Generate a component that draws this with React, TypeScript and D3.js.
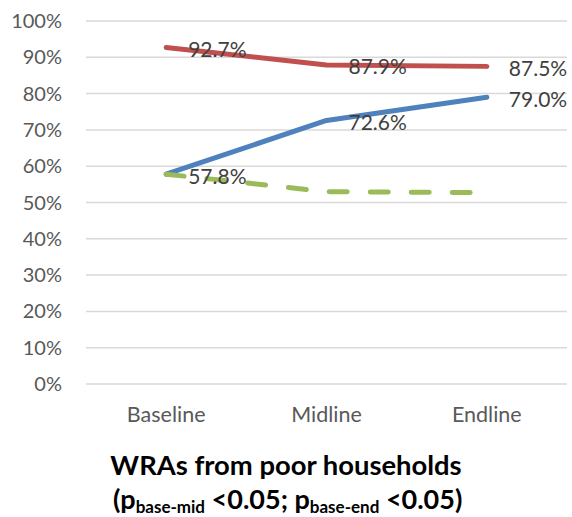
import React from "react";
import * as d3 from "d3";

const categories = ["Baseline", "Midline", "Endline"];
const redValues = [92.7, 87.9, 87.5];
const blueValues = [57.8, 72.6, 79.0];
const greenValues = [57.8, 53.0, 52.7];
const yTicks = [0, 10, 20, 30, 40, 50, 60, 70, 80, 90, 100];

const W = 572;
const H = 517;
const FONT = "Lato, 'Open Sans', sans-serif";

export default function App() {
  const x = d3.scaleBand<string>().domain(categories).range([86, 567]);
  const y = d3.scaleLinear().domain([0, 100]).range([384, 21]);
  const cx = (c: string) => (x(c) as number) + x.bandwidth() / 2;
  const line = d3
    .line<number>()
    .x((_, i) => cx(categories[i]))
    .y((d) => y(d));

  return (
    <svg
      width={W}
      height={H}
      style={{ position: "absolute", left: 0, top: 0, background: "#fff" }}
    >
      {yTicks.map((t) => (
        <g key={t}>
          <line x1={86} x2={567} y1={y(t)} y2={y(t)} stroke="#D9D9D9" strokeWidth={1.5} />
          <text
            x={62}
            y={y(t)}
            dy="0.35em"
            textAnchor="end"
            fontFamily={FONT}
            fontSize={20}
            fill="#595959"
          >
            {t}%
          </text>
        </g>
      ))}
      {categories.map((c) => (
        <text
          key={c}
          x={cx(c)}
          y={414}
          dy="0.35em"
          textAnchor="middle"
          fontFamily={FONT}
          fontSize={21.5}
          fill="#595959"
        >
          {c}
        </text>
      ))}
      <path d={line(redValues) || ""} fill="none" stroke="#C0504D" strokeWidth={5} strokeLinecap="round" strokeLinejoin="round" />
      <path d={line(blueValues) || ""} fill="none" stroke="#4F81BD" strokeWidth={5} strokeLinecap="round" strokeLinejoin="round" />
      <path
        d={line(greenValues) || ""}
        fill="none"
        stroke="#9BBB59"
        strokeWidth={5}
        strokeLinecap="round"
        strokeLinejoin="round"
        strokeDasharray="18,23"
      />
      {[redValues, blueValues].map((vals, si) =>
        vals.map((v, i) => (
          <text
            key={`${si}-${i}`}
            x={cx(categories[i]) + 22}
            y={y(v) + 2}
            dy="0.35em"
            fontFamily={FONT}
            fontSize={21}
            fill="#404040"
          >
            {v.toFixed(1)}%
          </text>
        ))
      )}
      <text x={286} y={475} textAnchor="middle" fontFamily={FONT} fontSize={27.4} fontWeight="bold" fill="#000">
        WRAs from poor households
      </text>
      <text x={113} y={509} fontFamily={FONT} fontSize={27} fontWeight="bold" fill="#000">
        <tspan>(p</tspan>
        <tspan fontSize={17} dy={4}>base-mid</tspan>
        <tspan dy={-4}> &lt;0.05; p</tspan>
        <tspan fontSize={17} dy={4}>base-end</tspan>
        <tspan dy={-4}> &lt;0.05)</tspan>
      </text>
    </svg>
  );
}
